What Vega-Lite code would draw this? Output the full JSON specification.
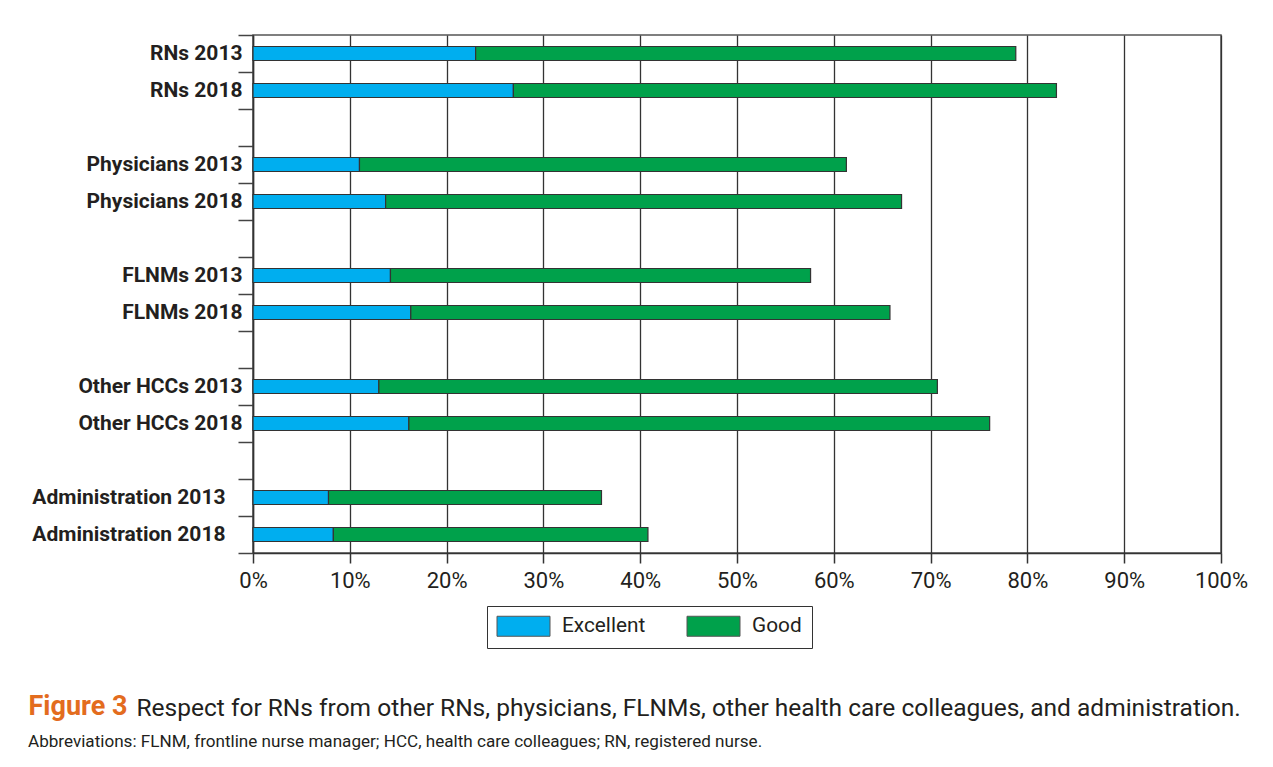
{
  "$schema": "https://vega.github.io/schema/vega-lite/v6.json",
  "width": 968,
  "height": 518,
  "autosize": {"type": "none"},
  "padding": {"left": 253, "top": 35, "right": 52, "bottom": 214},
  "background": "white",
  "config": {
    "font": "Roboto",
    "view": {"stroke": "#555", "strokeWidth": 1.5}
  },
  "title": {
    "text": "Abbreviations: FLNM, frontline nurse manager; HCC, health care colleagues; RN, registered nurse.",
    "orient": "bottom",
    "anchor": "start",
    "offset": 13,
    "fontSize": 17.1,
    "fontWeight": "normal",
    "color": "#231f20"
  },
  "data": {
    "values": [
      {"cat": "RNs 2013", "rating": "Excellent", "value": 23.0},
      {"cat": "RNs 2013", "rating": "Good", "value": 55.8},
      {"cat": "RNs 2018", "rating": "Excellent", "value": 26.9},
      {"cat": "RNs 2018", "rating": "Good", "value": 56.1},
      {"cat": "Physicians 2013", "rating": "Excellent", "value": 11.0},
      {"cat": "Physicians 2013", "rating": "Good", "value": 50.3},
      {"cat": "Physicians 2018", "rating": "Excellent", "value": 13.7},
      {"cat": "Physicians 2018", "rating": "Good", "value": 53.3},
      {"cat": "FLNMs 2013", "rating": "Excellent", "value": 14.2},
      {"cat": "FLNMs 2013", "rating": "Good", "value": 43.4},
      {"cat": "FLNMs 2018", "rating": "Excellent", "value": 16.3},
      {"cat": "FLNMs 2018", "rating": "Good", "value": 49.5},
      {"cat": "Other HCCs 2013", "rating": "Excellent", "value": 13.0},
      {"cat": "Other HCCs 2013", "rating": "Good", "value": 57.7},
      {"cat": "Other HCCs 2018", "rating": "Excellent", "value": 16.1},
      {"cat": "Other HCCs 2018", "rating": "Good", "value": 60.0},
      {"cat": "Administration 2013", "rating": "Excellent", "value": 7.8},
      {"cat": "Administration 2013", "rating": "Good", "value": 28.2},
      {"cat": "Administration 2018", "rating": "Excellent", "value": 8.3},
      {"cat": "Administration 2018", "rating": "Good", "value": 32.5}
    ]
  },
  "mark": {"type": "bar", "height": 14, "stroke": "#333", "strokeWidth": 1.2},
  "encoding": {
    "y": {
      "field": "cat",
      "type": "nominal",
      "scale": {
        "domain": ["RNs 2013", "RNs 2018", " ", "Physicians 2013", "Physicians 2018", "  ", "FLNMs 2013", "FLNMs 2018", "   ", "Other HCCs 2013", "Other HCCs 2018", "    ", "Administration 2013", "Administration 2018"],
        "paddingInner": 0,
        "paddingOuter": 0
      },
      "axis": {
        "title": "Respect for RNs from other RNs, physicians, FLNMs, other health care colleagues, and administration.",
        "titleAngle": 0,
        "titleX": -117,
        "titleY": 680,
        "titleAlign": "left",
        "titleBaseline": "alphabetic",
        "titleFontSize": 24.5,
        "titleFontWeight": "normal",
        "titleColor": "#231f20",
        "labelFontSize": 21,
        "labelFontWeight": "bold",
        "labelColor": "#231f20",
        "labelPadding": -4,
        "labelLimit": 300,
        "labelExpr": "indexof(datum.label, 'Administration') >= 0 ? datum.label + '\u2007\u00a0\u200b' : datum.label",
        "tickBand": "extent",
        "tickSize": 15,
        "tickColor": "#444",
        "tickWidth": 1.5,
        "domainColor": "#333",
        "domainWidth": 1.5,
        "grid": false
      }
    },
    "x": {
      "field": "value",
      "type": "quantitative",
      "scale": {"domain": [0, 100], "nice": false},
      "axis": {
        "values": [0, 10, 20, 30, 40, 50, 60, 70, 80, 90, 100],
        "labelExpr": "datum.value + '%'",
        "labelFlush": false,
        "grid": true,
        "gridColor": "#333",
        "gridWidth": 1.3,
        "tickSize": 10,
        "tickColor": "#333",
        "tickWidth": 1.5,
        "domainColor": "#333",
        "domainWidth": 1.5,
        "labelFontSize": 22,
        "labelColor": "#231f20",
        "labelPadding": 7,
        "title": "Figure 3",
        "titleX": -225,
        "titleY": 161,
        "titleAlign": "left",
        "titleBaseline": "alphabetic",
        "titleFontSize": 27,
        "titleFontWeight": "bold",
        "titleColor": "#e36c1e"
      }
    },
    "color": {
      "field": "rating",
      "type": "nominal",
      "scale": {"domain": ["Excellent", "Good"], "range": ["#00aeef", "#00a14b"]},
      "legend": {
        "title": null,
        "orient": "none",
        "legendX": 234,
        "legendY": 571,
        "direction": "horizontal",
        "strokeColor": "#333",
        "fillColor": "white",
        "padding": 9.5,
        "symbolType": "M-2.65,-1H2.65V1H-2.65Z",
        "symbolSize": 400,
        "symbolOffset": 16.5,
        "symbolStrokeColor": "#555",
        "symbolStrokeWidth": 1,
        "labelFontSize": 20.8,
        "labelColor": "#231f20",
        "labelOffset": 28,
        "columnPadding": 39
      }
    }
  }
}
